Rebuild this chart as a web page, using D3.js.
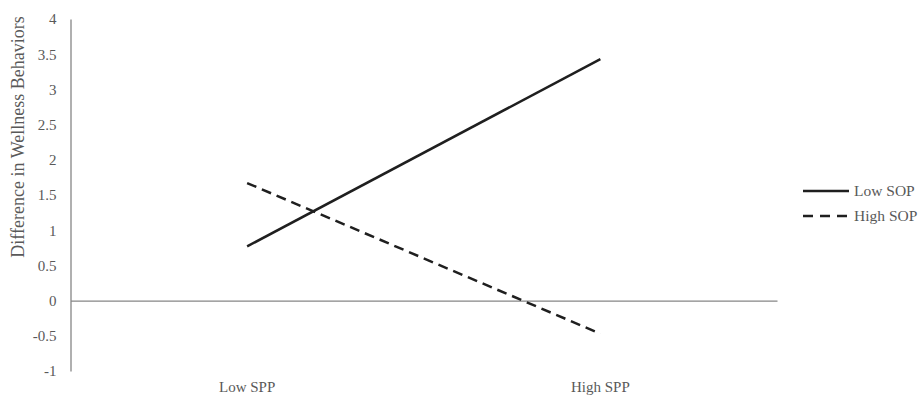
<!DOCTYPE html>
<html><head><meta charset="utf-8">
<script src="https://cdn.jsdelivr.net/npm/d3@7"></script>
<style>body{margin:0;background:#fff}svg{display:block}text{font-family:"Liberation Serif","Times New Roman",serif;fill:#595959}</style>
</head><body>
<svg id="c" width="919" height="402"></svg>
<script>
const categories = ["Low SPP", "High SPP"];
const seriesNames = ["Low SOP", "High SOP"];
const lowSOP = [0.77, 3.43];
const highSOP = [1.67, -0.47];
const yTicks = [-1, -0.5, 0, 0.5, 1, 1.5, 2, 2.5, 3, 3.5, 4];
const yTitle = "Difference in Wellness Behaviors";

const svg = d3.select("#c");
const x = d3.scaleBand().domain(categories).range([70.5, 777]).padding(0);
const y = d3.scaleLinear().domain([-1, 4]).range([371, 19]);

// y axis
const ya = svg.append("g").attr("transform", "translate(70.5,0)")
  .call(d3.axisLeft(y).tickValues(yTicks).tickSize(0).tickPadding(14).tickFormat(d => String(d)));
ya.select(".domain").attr("stroke", "#868686").attr("stroke-width", 1.3);
ya.selectAll("text").style("font-size", "15px").style("font-family", '"Liberation Serif",serif').attr("fill", "#595959");

// x axis line at zero
const xa = svg.append("g").attr("transform", `translate(0,${y(0)})`)
  .call(d3.axisBottom(x).tickSize(0).tickFormat(""));
xa.select(".domain").attr("stroke", "#868686").attr("stroke-width", 1.3);

// category labels
svg.append("g").selectAll("text").data(categories).join("text")
  .attr("x", d => x(d) + x.bandwidth() / 2).attr("y", 392)
  .attr("text-anchor", "middle").style("font-size", "15px").text(d => d);

// y title
svg.append("text").attr("transform", "translate(24,137) rotate(-90)")
  .attr("text-anchor", "middle").style("font-size", "18px").text(yTitle);

const line = d3.line().x((d, i) => x(categories[i]) + x.bandwidth() / 2).y(d => y(d));
const series = [
  {name: seriesNames[0], values: lowSOP, dash: null, ldash: null},
  {name: seriesNames[1], values: highSOP, dash: "10,6", ldash: "10,7"}
];
svg.append("g").selectAll("path").data(series).join("path")
  .attr("d", d => line(d.values)).attr("fill", "none")
  .attr("stroke", "#1f1f1f").attr("stroke-width", 2.5)
  .attr("stroke-dasharray", d => d.dash);

// legend
const lg = svg.append("g").selectAll("g").data(series).join("g")
  .attr("transform", (d, i) => `translate(803,${191 + i * 25})`);
lg.append("line").attr("x1", 0).attr("x2", 46).attr("y1", 0).attr("y2", 0)
  .attr("stroke", "#1f1f1f").attr("stroke-width", 2.5).attr("stroke-dasharray", d => d.ldash);
lg.append("text").attr("x", 51).attr("y", 5).style("font-size", "15.5px").text(d => d.name);
</script>
</body></html>
